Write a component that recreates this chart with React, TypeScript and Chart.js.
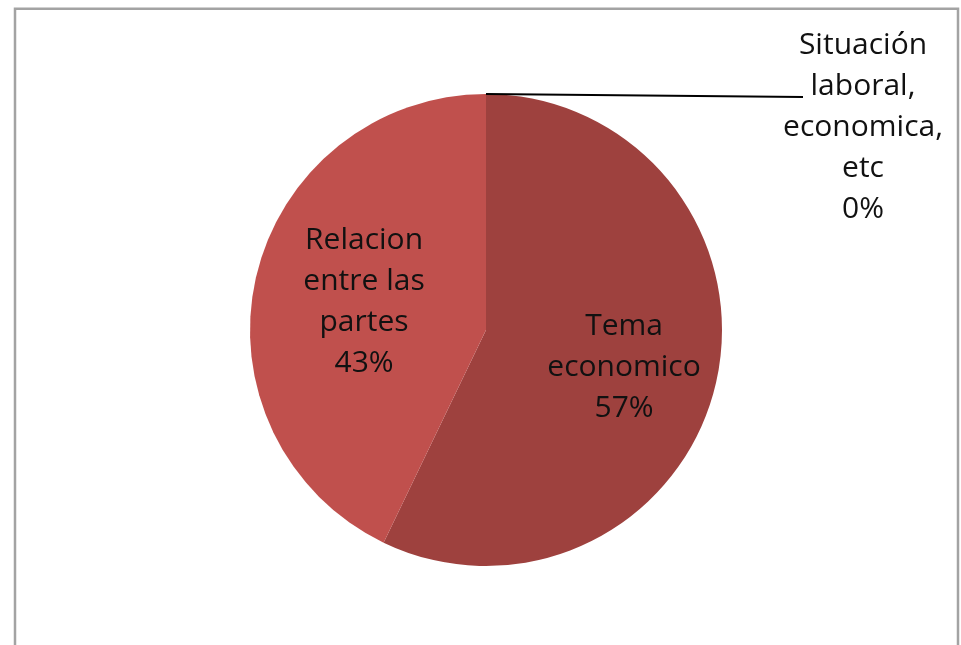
import React, { useEffect, useRef } from "react";
import { Chart, registerables } from "chart.js";

Chart.register(...registerables);

const categories = ["Tema economico", "Relacion entre las partes", "Situación laboral, economica, etc"];
const labelLines = [
  ["Tema", "economico"],
  ["Relacion", "entre las", "partes"],
  ["Situación", "laboral,", "economica,", "etc"],
];
const values = [4, 3, 0];
const colors = ["#9E413E", "#C0504D", "#4F81BD"];

const FONT = "30px 'Open Sans'";
const LINE_H = 41;
const LABEL_RADIUS = [0.6, 0.53, 1];
const LABEL_DY = [6, 0, 0];

const labelPlugin = {
  id: "excelLabels",
  afterDatasetsDraw(chart: any) {
    const ctx = chart.ctx;
    const meta = chart.getDatasetMeta(0);
    const total = values.reduce((a, b) => a + b, 0);
    ctx.save();
    ctx.font = FONT;
    ctx.fillStyle = "#111";
    ctx.textAlign = "center";
    ctx.textBaseline = "middle";
    meta.data.forEach((arc: any, i: number) => {
      const p = arc.getProps(["x", "y", "startAngle", "endAngle", "outerRadius"], true);
      const pct = Math.round((values[i] / total) * 100) + "%";
      const lines = [...labelLines[i], pct];
      if (values[i] > 0) {
        const mid = (p.startAngle + p.endAngle) / 2;
        const r = p.outerRadius * LABEL_RADIUS[i];
        const cx = p.x + Math.cos(mid) * r;
        const cy = p.y + Math.sin(mid) * r + LABEL_DY[i];
        const top = cy - ((lines.length - 1) * LINE_H) / 2;
        lines.forEach((t, k) => ctx.fillText(t, cx, top + k * LINE_H));
      } else {
        const ax = p.x + Math.cos(p.endAngle) * p.outerRadius;
        const ay = p.y + Math.sin(p.endAngle) * p.outerRadius;
        const ex = ax + 317;
        const ey = ay + 3;
        ctx.strokeStyle = "#000";
        ctx.lineWidth = 2;
        ctx.beginPath();
        ctx.moveTo(ax, ay);
        ctx.lineTo(ex, ey);
        ctx.stroke();
        const cx = ex + 60;
        const top = ey - 52;
        lines.forEach((t, k) => ctx.fillText(t, cx, top + k * LINE_H));
      }
    });
    ctx.restore();
  },
};

const framePlugin = {
  id: "frame",
  beforeDraw(chart: any) {
    const ctx = chart.ctx;
    ctx.save();
    ctx.fillStyle = "#fff";
    ctx.fillRect(0, 0, chart.width, chart.height);
    ctx.strokeStyle = "#a3a3a3";
    ctx.lineWidth = 2.5;
    ctx.beginPath();
    ctx.moveTo(15, chart.height + 5);
    ctx.lineTo(15, 8.7);
    ctx.lineTo(958, 8.7);
    ctx.lineTo(958, chart.height + 5);
    ctx.stroke();
    ctx.restore();
  },
};

export default function App() {
  const ref = useRef<HTMLCanvasElement>(null);
  useEffect(() => {
    document.body.style.margin = "0";
    const chart = new Chart(ref.current!, {
      type: "pie",
      data: {
        labels: categories,
        datasets: [{ data: values, backgroundColor: colors, borderWidth: 0 }],
      },
      options: {
        animation: false,
        responsive: false,
        layout: { padding: { top: 94, bottom: 79, left: 250, right: 239 } },
        plugins: { legend: { display: false }, tooltip: { enabled: false } },
      },
      plugins: [framePlugin, labelPlugin],
    });
    return () => chart.destroy();
  }, []);
  return <canvas ref={ref} width={961} height={645} style={{ display: "block" }} />;
}
